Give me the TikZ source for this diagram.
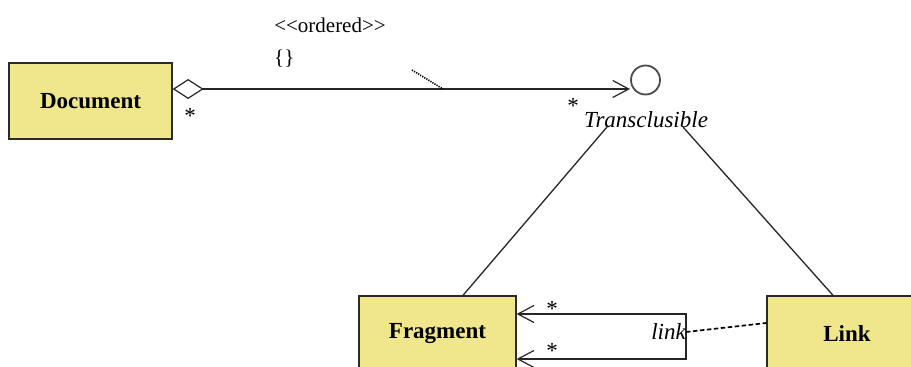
\documentclass[tikz,border=0pt]{standalone}
\usepackage{fontspec}
\setmainfont{Liberation Serif}
\usetikzlibrary{arrows.meta,shapes.geometric}
\definecolor{clsfill}{HTML}{F0E68C}
\definecolor{clsline}{HTML}{2B2B2B}
\tikzset{
  barb/.tip={Straight Barb[length=16pt,width=17pt,line width=1.2pt]},
  agg/.tip={Diamond[open,length=31pt,width=20pt,line width=1.2pt]}}
\begin{document}
\begin{tikzpicture}[x=1pt,y=-1pt,
  cls/.style={draw=clsline,line width=1.3pt,fill=clsfill,inner sep=0pt,
    font=\fontsize{23}{27}\selectfont\bfseries},
  lbl/.style={inner sep=0pt,font=\fontsize{23}{27}\selectfont},
  ilbl/.style={inner sep=0pt,font=\fontsize{23}{27}\selectfont\itshape},
  small/.style={inner sep=0pt,font=\fontsize{21}{25}\selectfont},
  conn/.style={line width=1.3pt,draw=black!85}]
\clip (0,0) rectangle (911,367);
\fill[white] (0,0) rectangle (911,367);

% classes
\node[cls,minimum width=163pt,minimum height=76pt] (doc) at (90.5,101) {Document};
\node[cls,minimum width=157pt,minimum height=76pt] (frag) at (437.5,334) {Fragment};
\node[cls,minimum width=160pt,minimum height=76pt] (link) at (847,334) {Link};

% interface
\node[draw=black!70,line width=1.8pt,circle,minimum size=29pt,inner sep=0pt] (trans) at (645.5,80) {};
\node[ilbl] (translbl) at (646,120) {Transclusible};

% aggregation Document -> Transclusible
\coordinate (tA) at (630,89);
\draw[conn,agg-barb] (doc.east |- tA) -- (tA);
\node[small] (ord) at (330,25) {{<}{<}ordered{>}{>}};
\node[small,anchor=west] (cons) at (274,59) {\{\}};
\draw[line width=1.7pt,dash pattern=on 1.2pt off 1.2pt] (412,70) -- (443,89);
\node[lbl] (m1) at (190,116) {*};
\node[lbl] (m2) at (573,106) {*};

% realisations
\draw[conn] (607,127) -- (frag.north -| 463,0);
\draw[conn] (683,127) -- (link.north -| 833,0);

% link association
\coordinate (lt) at (686,314);
\coordinate (lb) at (686,359);
\draw[conn,barb-barb] (frag.east |- lt) -- (lt) -- (lb) -- (frag.east |- lb);
\node[lbl] (m3) at (552,309) {*};
\node[lbl] (m4) at (552,351) {*};
\node[ilbl,anchor=east] (linklbl) at (686,332) {link};
\draw[line width=1.7pt,dash pattern=on 4.5pt off 2.5pt] (linklbl.east) -- (link.west |- 0,323);
\end{tikzpicture}
\end{document}
